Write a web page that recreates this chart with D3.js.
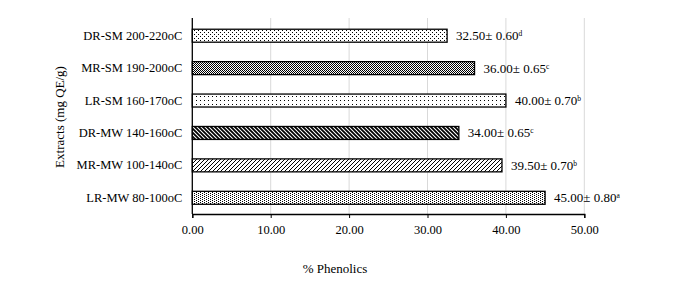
<!DOCTYPE html>
<html><head><meta charset="utf-8">
<script src="https://cdn.jsdelivr.net/npm/d3@7"></script>
<style>body{margin:0;background:#fff}svg{display:block}text{font-family:"Liberation Serif","Times New Roman",serif;fill:#000}</style>
</head><body><div id="chart"></div>
<script>
const categories = ["DR-SM 200-220oC","MR-SM 190-200oC","LR-SM 160-170oC","DR-MW 140-160oC","MR-MW 100-140oC","LR-MW 80-100oC"];
const values = [32.50, 36.00, 40.00, 34.00, 39.50, 45.00];
const errors = ["0.60","0.65","0.70","0.65","0.70","0.80"];
const letters = ["d","c","b","c","b","a"];
const xTicks = [0,10,20,30,40,50];
const patternIds = ["pDots1","pDots2","pDots3","pDiagDown","pDiagUp","pDots4"];

(function(){
const W=691,H=290;
const svg=d3.select("#chart").append("svg").attr("width",W).attr("height",H);
const defs=svg.append("defs");
function dotPattern(id,w,h,pts){
  const p=defs.append("pattern").attr("id",id).attr("patternUnits","userSpaceOnUse").attr("width",w).attr("height",h);
  p.append("rect").attr("width",w).attr("height",h).attr("fill","#fff");
  pts.forEach(([px,py])=>p.append("rect").attr("x",px).attr("y",py).attr("width",1).attr("height",1).attr("fill","#000"));
}
dotPattern("pDots1",4,4,[[0,0],[2,2]]);
dotPattern("pDots2",2,2,[[0,0],[1,1]]);
dotPattern("pDots3",4,4,[[0,0]]);
dotPattern("pDots4",4,2,[[0,0],[2,1]]);
const p1=defs.append("pattern").attr("id","pDiagDown").attr("patternUnits","userSpaceOnUse").attr("width",4).attr("height",4);
p1.append("rect").attr("width",4).attr("height",4).attr("fill","#fff");
p1.append("path").attr("d","M-1,-1 L5,5 M-1,3 L1,5 M3,-1 L5,1").attr("stroke","#000").attr("stroke-width",1.8);
const p2=defs.append("pattern").attr("id","pDiagUp").attr("patternUnits","userSpaceOnUse").attr("width",4).attr("height",4);
p2.append("rect").attr("width",4).attr("height",4).attr("fill","#fff");
p2.append("path").attr("d","M-1,5 L5,-1 M-1,1 L1,-1 M3,5 L5,3").attr("stroke","#000").attr("stroke-width",1);

const x=d3.scaleLinear().domain([0,50]).range([192.3,584.3]);
const y=d3.scaleBand().domain(categories).range([19.5,214]).paddingInner(0.6).paddingOuter(0.3);
const plotTop=18, plotBottom=214;

svg.append("g").selectAll("line").data(xTicks.slice(1)).join("line")
  .attr("x1",d=>x(d)).attr("x2",d=>x(d)).attr("y1",plotTop).attr("y2",plotBottom)
  .attr("stroke","#d9d9d9").attr("stroke-width",1);

svg.append("g").selectAll("rect").data(values).join("rect")
  .attr("x",x(0)).attr("y",(d,i)=>y(categories[i]))
  .attr("width",d=>x(d)-x(0)).attr("height",y.bandwidth())
  .attr("fill",(d,i)=>`url(#${patternIds[i]})`).attr("stroke","#000").attr("stroke-width",1.3);

const xa=svg.append("g").attr("transform",`translate(0,${plotBottom})`)
  .call(d3.axisBottom(x).tickValues(xTicks).tickFormat(d3.format(".2f")).tickSize(4).tickPadding(7));
xa.select(".domain").attr("stroke","#000").attr("stroke-width",1.3);
xa.selectAll(".tick line").attr("stroke","#000");
xa.selectAll(".tick text").attr("font-size",12.5).attr("font-family","Liberation Serif");

const ya=svg.append("g").attr("transform",`translate(${x(0)},0)`)
  .call(d3.axisLeft(y).tickSize(0).tickPadding(10));
ya.select(".domain").attr("d",`M0,${plotTop}V${plotBottom}`).attr("stroke","#000").attr("stroke-width",1.3);
ya.selectAll(".tick text").attr("font-size",12.5).attr("font-family","Liberation Serif");

const lbl=svg.append("g").selectAll("text").data(values).join("text")
  .attr("x",d=>x(d)+9).attr("y",(d,i)=>y(categories[i])+y.bandwidth()/2+4.5)
  .attr("font-size",13);
lbl.append("tspan").text((d,i)=>d3.format(".2f")(d)+"\u00b1 "+errors[i]);
lbl.append("tspan").attr("font-size",7.5).attr("dy",-4).text((d,i)=>letters[i]);

svg.append("text").attr("x",335).attr("y",273).attr("text-anchor","middle").attr("font-size",13).text("% Phenolics");
svg.append("text").attr("transform","translate(64,117) rotate(-90)").attr("text-anchor","middle").attr("font-size",13).text("Extracts (mg QE/g)");
})();
</script></body></html>
